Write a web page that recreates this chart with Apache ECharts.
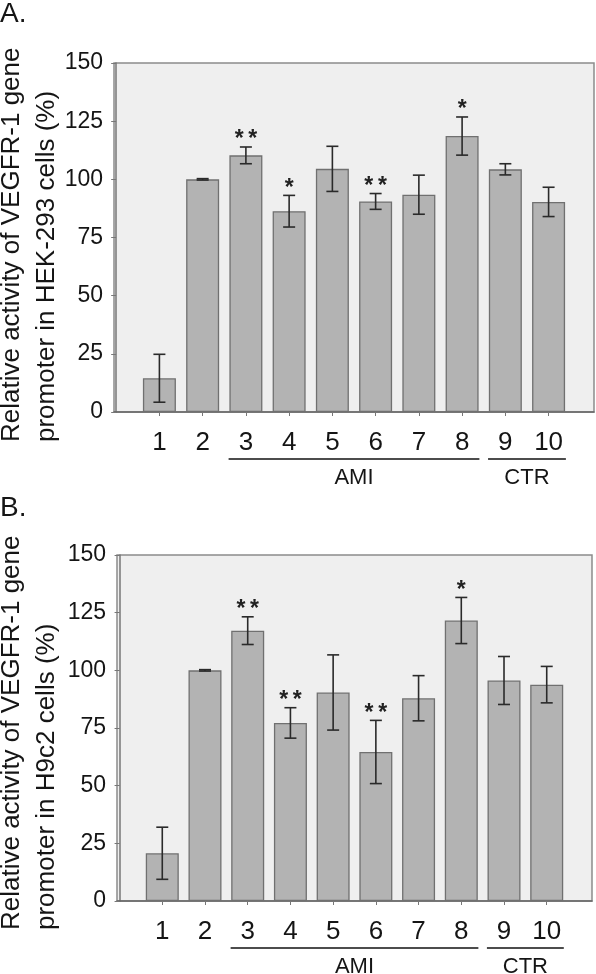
<!DOCTYPE html>
<html><head><meta charset="utf-8">
<script src="https://cdn.jsdelivr.net/npm/echarts@6/dist/echarts.min.js"></script>
<style>html,body{margin:0;padding:0;background:#fff}#c{width:596px;height:974px}</style>
</head><body><div id="c"></div>
<script>
// ---- data ----
const categories = [1, 2, 3, 4, 5, 6, 7, 8, 9, 10];
const yTicks = [0, 25, 50, 75, 100, 125, 150];
const meanA = [14.5, 100, 110.3, 86.3, 104.5, 90.5, 93.4, 118.6, 104.3, 90.3];
const errA  = [10.3, 0.3, 3.6, 6.8, 9.7, 3.4, 8.4, 8.2, 2.4, 6.3];
const sigA  = ['', '', '**', '*', '', '**', '', '*', '', ''];
const meanB = [20.7, 100, 117.2, 77.2, 90.4, 64.6, 87.9, 121.6, 95.6, 93.8];
const errB  = [11.3, 0.3, 6.0, 6.6, 16.3, 13.7, 9.8, 10.0, 10.4, 7.9];
const sigB  = ['', '', '**', '**', '', '**', '', '*', '', ''];
const groupNames = ['AMI', 'CTR'];
const groupStart = [3, 9];
const groupEnd = [8, 10];
const titleA = ['Relative activity of VEGFR-1 gene', 'promoter in HEK-293 cells (%)'];
const titleB = ['Relative activity of VEGFR-1 gene', 'promoter in H9c2 cells (%)'];
const panelLabels = ['A.', 'B.'];

// ---- styling ----
const FONT = '"Liberation Sans", Arial, Helvetica, sans-serif';
const TXT = '#151515';
const chart = echarts.init(document.getElementById('c'), null, {renderer: 'canvas'});

const panels = [
  {mean: meanA, err: errA, sig: sigA, title: titleA, label: panelLabels[0],
   grid: {left: 114, top: 63, width: 480, height: 349}, xmin: -0.05, xmax: 11.05, labelY: 0, titleY: 442},
  {mean: meanB, err: errB, sig: sigB, title: titleB, label: panelLabels[1],
   grid: {left: 117, top: 555, width: 475, height: 346}, xmin: -0.06, xmax: 11.06, labelY: 494, titleY: 930}
];

const grids = [], xAxes = [], yAxes = [], series = [], graphics = [];
panels.forEach((p, k) => {
  grids.push(Object.assign({show: true, backgroundColor: '#efefef', borderColor: '#8c8c8c', borderWidth: 1.5}, p.grid));
  xAxes.push({
    type: 'value', gridIndex: k, min: p.xmin, max: p.xmax,
    axisLine: {show: true, onZero: false, lineStyle: {color: '#666', width: 1.5}},
    axisTick: {show: true, customValues: categories, length: 4, lineStyle: {color: '#777'}},
    axisLabel: {customValues: categories, fontSize: 26, color: TXT, fontFamily: FONT, margin: 18},
    splitLine: {show: false}
  });
  yAxes.push({
    type: 'value', gridIndex: k, min: yTicks[0], max: yTicks[yTicks.length - 1], interval: 25,
    axisLine: {show: true, lineStyle: {color: '#777', width: 1.5}},
    axisTick: {show: true, length: 5, lineStyle: {color: '#777'}},
    axisLabel: {fontSize: 23, color: TXT, fontFamily: FONT, margin: 11},
    splitLine: {show: false}
  });
  series.push({
    type: 'bar', xAxisIndex: k, yAxisIndex: k, barWidth: 33,
    data: categories.map((c, i) => [c, p.mean[i]]),
    itemStyle: {color: '#b3b3b3', borderColor: '#707070', borderWidth: 1.3},
    silent: true
  });
  const sig = p.sig;
  series.push({
    type: 'custom', xAxisIndex: k, yAxisIndex: k, clip: false, z: 5,
    data: categories.map((c, i) => [c, p.mean[i], p.err[i]]),
    renderItem: function (params, api) {
      const x = api.value(0), m = api.value(1), e = api.value(2);
      const t = api.coord([x, m + e]);
      const b = api.coord([x, m - e]);
      const hw = 6;
      const ls = {stroke: '#2a2a2a', lineWidth: 1.6};
      const ch = [
        {type: 'line', shape: {x1: t[0], y1: t[1], x2: b[0], y2: b[1]}, style: ls},
        {type: 'line', shape: {x1: t[0] - hw, y1: t[1], x2: t[0] + hw, y2: t[1]}, style: ls},
        {type: 'line', shape: {x1: b[0] - hw, y1: b[1], x2: b[0] + hw, y2: b[1]}, style: ls}
      ];
      const s = sig[params.dataIndex];
      if (s) {
        ch.push({type: 'text', style: {
          text: s.split('').join('\u2009'), x: t[0], y: t[1] - 7,
          textAlign: 'center', textVerticalAlign: 'middle',
          font: 'bold 23px ' + FONT, fill: '#222'}});
      }
      return {type: 'group', children: ch};
    }
  });
  series.push({
    type: 'custom', xAxisIndex: k, yAxisIndex: k, clip: false, z: 5,
    data: groupNames.map((n, i) => [groupStart[i], groupEnd[i], i]),
    renderItem: function (params, api) {
      const a = api.coord([api.value(0) - 0.4, 0]);
      const b = api.coord([api.value(1) + 0.4, 0]);
      const y = a[1] + 47;
      return {type: 'group', children: [
        {type: 'line', shape: {x1: a[0], y1: y, x2: b[0], y2: y}, style: {stroke: '#111', lineWidth: 1.6}},
        {type: 'text', style: {text: groupNames[params.dataIndex], x: (a[0] + b[0]) / 2, y: a[1] + 66,
          textAlign: 'center', textVerticalAlign: 'middle', font: '22px ' + FONT, fill: TXT}}
      ]};
    }
  });
  graphics.push({type: 'text', x: 0, y: p.labelY, style: {text: p.label, font: '28px ' + FONT, fill: TXT, textAlign: 'left', textVerticalAlign: 'top'}});
  graphics.push({type: 'text', x: 12, y: p.titleY, rotation: Math.PI / 2,
    style: {text: p.title[0], font: '26px ' + FONT, fill: TXT, textAlign: 'left', textVerticalAlign: 'middle'}});
  graphics.push({type: 'text', x: 47, y: p.titleY, rotation: Math.PI / 2,
    style: {text: p.title[1], font: '26px ' + FONT, fill: TXT, textAlign: 'left', textVerticalAlign: 'middle'}});
});

chart.setOption({
  animation: false,
  backgroundColor: '#ffffff',
  grid: grids, xAxis: xAxes, yAxis: yAxes, series: series, graphic: graphics
});
</script></body></html>
